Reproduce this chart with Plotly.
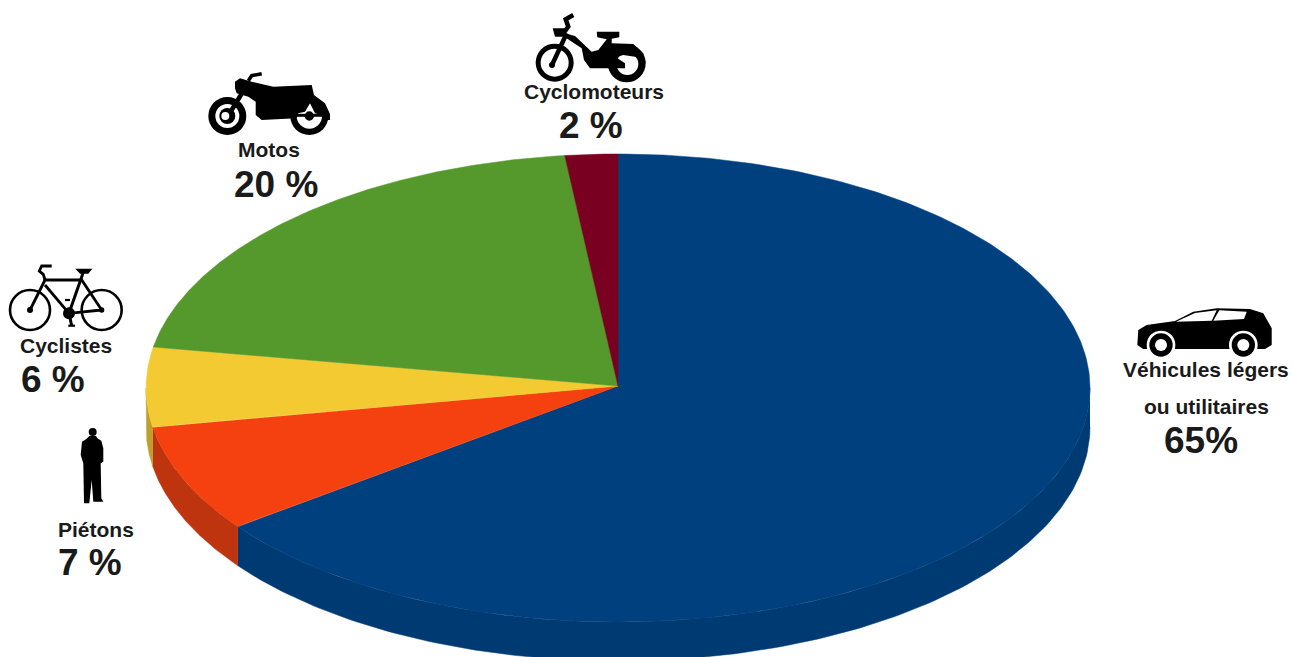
import numpy as np
import plotly.graph_objects as go

categories = ["Véhicules légers ou utilitaires", "Piétons", "Cyclistes", "Motos", "Cyclomoteurs"]
values = [64.9, 7.4, 5.5, 20.4, 1.8]
top_colors = ["#00407f", "#f5410f", "#f4ca33", "#55982b", "#7a0022"]
side_colors = ["#003a73", "#bd340f", "#bf9f2a", "#457a22", "#600019"]

name_labels = ["Cyclomoteurs", "Motos", "Cyclistes", "Piétons", "Véhicules légers", "ou utilitaires"]
name_x = [594, 269, 66, 96, 1206, 1206]
name_y = [91, 149, 345, 529, 369, 406]
pct_labels = ["2 %", "20 %", "6 %", "7 %", "65%"]
pct_x = [591, 276, 53, 90, 1201]
pct_y = [125, 184, 379, 562, 440]

CX, CY, RX, RY, DEPTH = 618, 388, 472, 234, 39
APEX_Y = 386
INK = "#1a1a1a"

fig = go.Figure()


def ex(t):
    return CX + RX * np.sin(t)


def ey(t):
    return CY - RY * np.cos(t)


fractions = np.cumsum([0] + values) / sum(values)
edges = 2 * np.pi * fractions

# side wall (only the front half of the disc is visible)
for i in range(len(values)):
    a = max(edges[i], np.pi / 2)
    b = min(edges[i + 1], 3 * np.pi / 2)
    if b <= a:
        continue
    t = np.linspace(a, b, 160)
    xs = np.r_[ex(t), ex(t[::-1])]
    ys = np.r_[ey(t), ey(t[::-1]) + DEPTH]
    fig.add_trace(go.Scatter(x=xs, y=ys, mode="lines", fill="toself", fillcolor=side_colors[i],
                             line=dict(color=side_colors[i], width=0.5),
                             hoverinfo="skip", showlegend=False))

# top face
for i, name in enumerate(categories):
    t = np.linspace(edges[i], edges[i + 1], 300)
    xs = np.r_[CX, ex(t), CX]
    ys = np.r_[APEX_Y, ey(t), APEX_Y]
    fig.add_trace(go.Scatter(x=xs, y=ys, mode="lines", fill="toself", fillcolor=top_colors[i],
                             line=dict(color=top_colors[i], width=0.5), name=name,
                             hoverinfo="name", showlegend=False))

shapes = []


def poly(points, ox, oy, fill="black"):
    p = [(ox + x / 3, oy + y / 3) for x, y in points]
    d = "M" + " L".join(f"{x:.1f},{y:.1f}" for x, y in p) + " Z"
    shapes.append(dict(type="path", path=d, fillcolor=fill, line=dict(width=0), xref="x", yref="y"))


def stroke(points, ox, oy, width, color="black"):
    p = [(ox + x / 3, oy + y / 3) for x, y in points]
    d = "M" + " L".join(f"{x:.1f},{y:.1f}" for x, y in p)
    shapes.append(dict(type="path", path=d, line=dict(color=color, width=width), xref="x", yref="y"))


def disc(x, y, r, ox, oy, fill="black", line_w=0, line_c="black"):
    cx, cy, rr = ox + x / 3, oy + y / 3, r / 3
    shapes.append(dict(type="circle", x0=cx - rr, x1=cx + rr, y0=cy - rr, y1=cy + rr,
                       fillcolor=fill, line=dict(width=line_w, color=line_c), xref="x", yref="y"))


# moped
ox, oy = 510, 0
disc(134, 188, 57, ox, oy)
disc(134, 188, 42, ox, oy, "white")
disc(126, 195, 9, ox, oy)
stroke([(126, 195), (170, 100)], ox, oy, 4.5)
stroke([(190, 45), (167, 58), (175, 80), (160, 100)], ox, oy, 4.5)
poly([(128, 85), (165, 85), (165, 110), (135, 110)], ox, oy)
disc(350, 190, 57, ox, oy)
disc(352, 192, 33, ox, oy, "white")
poly([(165, 100), (195, 108), (245, 155), (265, 150), (290, 118), (262, 112), (260, 95), (328, 95),
      (328, 112), (305, 116), (305, 130), (370, 132), (400, 160), (407, 190), (385, 172), (340, 165),
      (318, 172), (345, 190), (345, 205), (240, 205), (222, 180), (215, 145), (165, 112)], ox, oy)

# motorcycle
ox, oy = 190, 60
disc(112, 168, 57, ox, oy)
disc(112, 168, 36, ox, oy, "white")
disc(112, 168, 24, ox, oy)
disc(106, 168, 12, ox, oy, "white")
stroke([(125, 150), (165, 85)], ox, oy, 4.5)
stroke([(175, 62), (185, 47), (215, 41)], ox, oy, 3.5)
disc(358, 168, 57, ox, oy)
disc(358, 168, 38, ox, oy, "white")
poly([(135, 65), (150, 55), (185, 65), (250, 80), (365, 75), (372, 105), (405, 130), (420, 162),
      (420, 180), (400, 180), (395, 165), (375, 160), (360, 130), (345, 155), (325, 160), (318, 175),
      (215, 180), (197, 165), (197, 125), (175, 110), (140, 100), (135, 85)], ox, oy)
stroke([(318, 166), (400, 166)], ox, oy, 3)
disc(358, 168, 14, ox, oy)

# bicycle
ox, oy = 0, 255
disc(90, 165, 60, ox, oy, "rgba(0,0,0,0)", 2.6)
disc(305, 165, 60, ox, oy, "rgba(0,0,0,0)", 2.6)
disc(90, 165, 9, ox, oy)
disc(305, 165, 8, ox, oy)
disc(207, 175, 18, ox, oy)
stroke([(90, 165), (135, 75), (245, 75), (305, 165), (207, 175), (135, 90)], ox, oy, 2.8)
stroke([(250, 52), (207, 175)], ox, oy, 3)
stroke([(135, 75), (130, 58), (118, 48), (125, 33), (155, 33)], ox, oy, 2.8)
poly([(226, 41), (277, 41), (265, 56), (240, 56)], ox, oy)
stroke([(207, 175), (215, 212)], ox, oy, 3)
stroke([(205, 212), (225, 212)], ox, oy, 2.2)
stroke([(195, 135), (210, 135)], ox, oy, 2.2)

# pedestrian
ox, oy = 40, 420
disc(158, 36, 12, ox, oy)
poly([(148, 48), (168, 48), (172, 55), (184, 62), (190, 85), (190, 125), (182, 130), (184, 235),
      (190, 245), (160, 245), (155, 180), (148, 250), (132, 250), (130, 130), (122, 105), (126, 65),
      (140, 56)], ox, oy)

# car
ox, oy = 1100, 295
poly([(112, 150), (115, 105), (140, 90), (225, 78), (280, 50), (350, 40), (450, 42), (490, 55),
      (515, 100), (515, 150), (495, 162), (130, 162)], ox, oy)
poly([(228, 80), (285, 54), (350, 46), (335, 77)], ox, oy, "white")
poly([(340, 77), (358, 46), (440, 50), (432, 72)], ox, oy, "white")
for wheel_x in (183, 430):
    disc(wheel_x, 150, 43, ox, oy, "white")
    disc(wheel_x, 150, 35, ox, oy)
    disc(wheel_x, 150, 18, ox, oy, "white")

annotations = []
for txt, x, y in zip(name_labels, name_x, name_y):
    annotations.append(dict(x=x, y=y, text=f"<b>{txt}</b>", showarrow=False, xanchor="center", yanchor="middle",
                            font=dict(family="Liberation Sans", size=21, color=INK)))
for txt, x, y in zip(pct_labels, pct_x, pct_y):
    annotations.append(dict(x=x, y=y, text=f"<b>{txt}</b>", showarrow=False, xanchor="center", yanchor="middle",
                            font=dict(family="Liberation Sans", size=37, color=INK)))

fig.update_layout(
    width=1292, height=657, margin=dict(l=0, r=0, t=0, b=0),
    paper_bgcolor="white", plot_bgcolor="white", showlegend=False,
    xaxis=dict(range=[0, 1292], visible=False, fixedrange=True),
    yaxis=dict(range=[657, 0], visible=False, fixedrange=True),
    shapes=shapes, annotations=annotations,
)
fig.write_html("out.html", config=dict(displayModeBar=False), post_script="document.body.style.margin='0';")
